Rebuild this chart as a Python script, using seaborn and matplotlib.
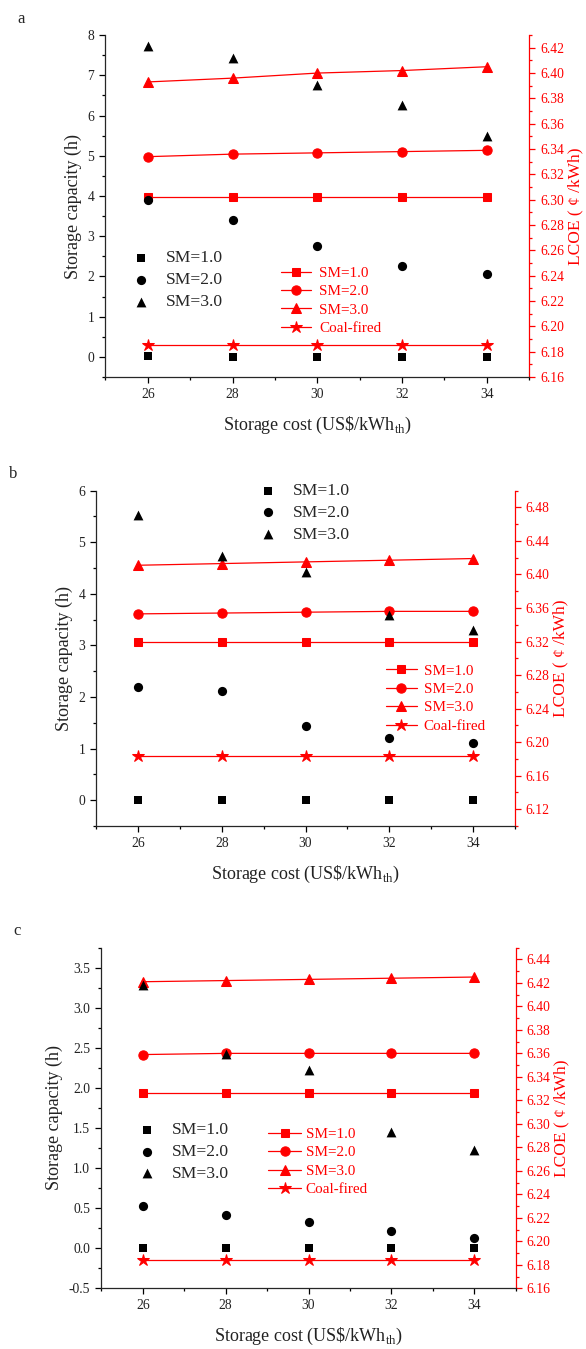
import numpy as np
import pandas as pd
import seaborn as sns
import matplotlib.pyplot as plt
from matplotlib.ticker import MultipleLocator, FormatStrFormatter

cost = [26, 28, 30, 32, 34]
sm_labels = ['SM=1.0', 'SM=2.0', 'SM=3.0']
coal_label = 'Coal-fired'

# panel a: storage capacity (h) and LCOE
cap_a_sm1 = [0.03, 0.01, 0.0, 0.0, 0.0]
cap_a_sm2 = [3.90, 3.41, 2.76, 2.27, 2.07]
cap_a_sm3 = [7.72, 7.42, 6.75, 6.25, 5.48]
lcoe_a_sm1 = [6.302, 6.302, 6.302, 6.302, 6.302]
lcoe_a_sm2 = [6.334, 6.336, 6.337, 6.338, 6.339]
lcoe_a_sm3 = [6.393, 6.396, 6.400, 6.402, 6.405]
lcoe_a_coal = [6.185, 6.185, 6.185, 6.185, 6.185]

# panel b
cap_b_sm1 = [0.0, 0.0, 0.0, 0.0, 0.0]
cap_b_sm2 = [2.20, 2.11, 1.43, 1.21, 1.10]
cap_b_sm3 = [5.53, 4.74, 4.42, 3.58, 3.30]
lcoe_b_sm1 = [6.319, 6.319, 6.319, 6.319, 6.319]
lcoe_b_sm2 = [6.353, 6.354, 6.355, 6.356, 6.356]
lcoe_b_sm3 = [6.411, 6.413, 6.415, 6.417, 6.419]
lcoe_b_coal = [6.184, 6.184, 6.184, 6.184, 6.184]

# panel c
cap_c_sm1 = [0.0, 0.0, 0.0, 0.0, 0.0]
cap_c_sm2 = [0.53, 0.41, 0.33, 0.21, 0.13]
cap_c_sm3 = [3.28, 2.42, 2.22, 1.45, 1.22]
lcoe_c_sm1 = [6.326, 6.326, 6.326, 6.326, 6.326]
lcoe_c_sm2 = [6.359, 6.360, 6.360, 6.360, 6.360]
lcoe_c_sm3 = [6.421, 6.422, 6.423, 6.424, 6.425]
lcoe_c_coal = [6.184, 6.184, 6.184, 6.184, 6.184]

sns.set_style('ticks')
plt.rcParams['font.family'] = ['Liberation Serif', 'DejaVu Serif']
plt.rcParams['mathtext.fontset'] = 'custom'
plt.rcParams['mathtext.rm'] = 'Liberation Serif'
plt.rcParams['axes.linewidth'] = 0.9

RED = '#ff0000'
black_markers = ['s', 'o', '^']
black_sizes = [32, 44, 50]
red_markers = ['s', 'o', '^', '*']
red_sizes = [6.0, 6.7, 7.0, 9.0]

fig = plt.figure(figsize=(5.86, 13.49), dpi=100)


def panel(rect, letter, caps, lcoes, ylim, ymaj, ymin, yfmt, rlim, rmaj, rmin,
          bleg, rleg, rlen, rpad):
    ax = fig.add_axes(rect)
    ax2 = ax.twinx()
    for lab, vals, m, s in zip(sm_labels, caps, black_markers, black_sizes):
        sns.scatterplot(x=cost, y=vals, marker=m, s=s, color='black',
                        edgecolor='black', linewidth=0, label=lab, ax=ax)
    for lab, vals, m, ms in zip(sm_labels + [coal_label], lcoes, red_markers, red_sizes):
        sns.lineplot(x=cost, y=vals, marker=m, markersize=ms, color=RED,
                     markeredgecolor=RED, linewidth=0.9, label=lab, ax=ax2)

    ax.set_xlim(25, 35)
    ax.xaxis.set_major_locator(MultipleLocator(2))
    ax.xaxis.set_minor_locator(MultipleLocator(1))
    ax.set_ylim(*ylim)
    ax.yaxis.set_major_locator(MultipleLocator(ymaj))
    ax.yaxis.set_minor_locator(MultipleLocator(ymin))
    ax.yaxis.set_major_formatter(FormatStrFormatter(yfmt))
    if yfmt == '%d':
        ax.set_yticks([t for t in np.arange(0, ylim[1] + 0.01, ymaj)])
        ax.set_ylim(*ylim)

    ax2.set_ylim(*rlim)
    ax2.yaxis.set_major_locator(MultipleLocator(rmaj))
    ax2.yaxis.set_minor_locator(MultipleLocator(rmin))
    ax2.yaxis.set_major_formatter(FormatStrFormatter('%.2f'))

    for a in (ax, ax2):
        a.spines['top'].set_visible(False)
    ax.spines['right'].set_visible(False)
    ax2.spines['left'].set_visible(False)
    ax2.spines['bottom'].set_visible(False)
    ax2.spines['right'].set_color(RED)
    ax2.spines['right'].set_linewidth(0.9)

    ax.tick_params(axis='both', which='major', direction='out', length=4.5,
                   width=0.9, labelsize=9.8, color='black', labelcolor='#222222')
    ax.tick_params(axis='both', which='minor', direction='out', length=2.5,
                   width=0.9, color='black')
    ax2.tick_params(axis='y', which='major', direction='out', length=4.5,
                    width=0.9, labelsize=9.8, color=RED, labelcolor=RED)
    ax2.tick_params(axis='y', which='minor', direction='out', length=2.5,
                    width=0.9, color=RED)

    ax.set_xlabel(r'Storage cost (US\$/kWh$_{\mathrm{th}}$)', fontsize=13,
                  color='#222222', labelpad=10)
    ax.set_ylabel('Storage capacity (h)', fontsize=13, color='#222222')
    ax2.set_ylabel('LCOE ( \u00a2 /kWh)', fontsize=12.5, color=RED, labelpad=2)

    ax.legend(loc='upper left', bbox_to_anchor=bleg, frameon=False,
              fontsize=12.6, handlelength=1.0, handletextpad=0.9,
              labelspacing=0.32, borderpad=0, borderaxespad=0)
    ax2.legend(loc='upper left', bbox_to_anchor=rleg, frameon=False,
               fontsize=10.9, handlelength=rlen, handletextpad=rpad,
               labelspacing=0.32, borderpad=0, borderaxespad=0,
               labelcolor=RED)
    ax.set_zorder(ax2.get_zorder() + 1)
    ax.patch.set_visible(False)

    fig.text(rect[0] - 0.15, rect[1] + rect[3] + 0.012, letter, fontsize=12,
             ha='left', va='center')
    return ax, ax2


panel([0.1799, 0.7205, 0.7232, 0.2535], 'a',
      [cap_a_sm1, cap_a_sm2, cap_a_sm3],
      [lcoe_a_sm1, lcoe_a_sm2, lcoe_a_sm3, lcoe_a_coal],
      (-0.5, 8), 1, 0.5, '%d', (6.16, 6.43), 0.02, 0.01,
      (0.064, 0.371), (0.414, 0.324), 2.0, 0.55)

panel([0.1645, 0.3877, 0.7137, 0.2486], 'b',
      [cap_b_sm1, cap_b_sm2, cap_b_sm3],
      [lcoe_b_sm1, lcoe_b_sm2, lcoe_b_sm3, lcoe_b_coal],
      (-0.5, 6), 1, 0.5, '%d', (6.10, 6.50), 0.04, 0.02,
      (0.39, 1.023), (0.6915, 0.483), 2.1, 0.42)

panel([0.1729, 0.0450, 0.7072, 0.2525], 'c',
      [cap_c_sm1, cap_c_sm2, cap_c_sm3],
      [lcoe_c_sm1, lcoe_c_sm2, lcoe_c_sm3, lcoe_c_coal],
      (-0.5, 3.75), 0.5, 0.25, '%.1f', (6.16, 6.45), 0.02, 0.01,
      (0.089, 0.488), (0.403, 0.4725), 2.15, 0.32)

fig.savefig('out.png', dpi=100)
